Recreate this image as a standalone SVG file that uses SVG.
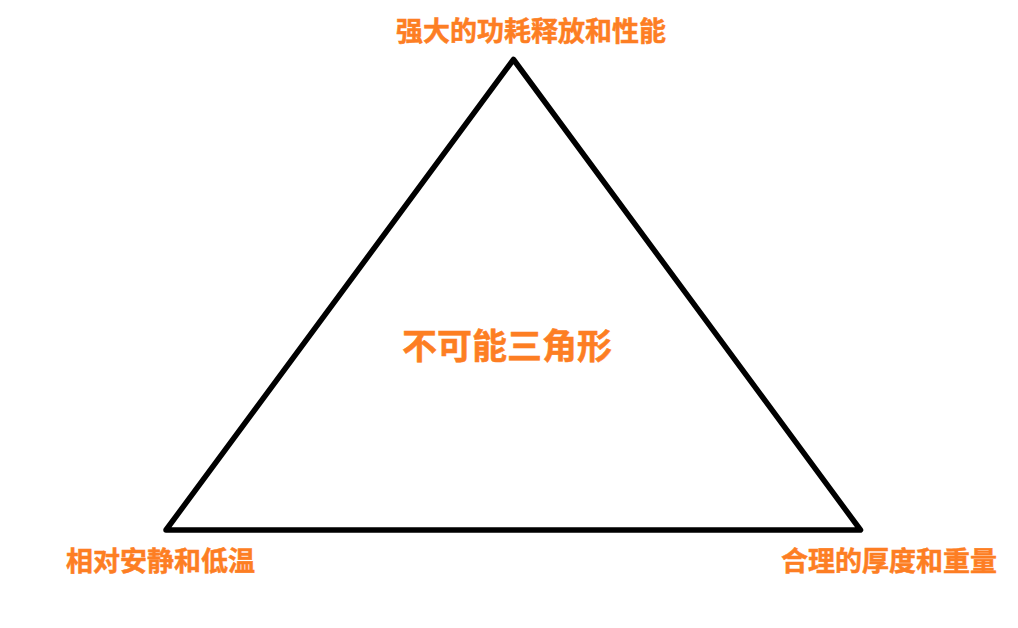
<svg xmlns="http://www.w3.org/2000/svg" width="1018" height="628" viewBox="0 0 1018 628">
<style>
text{font-family:"Noto Sans CJK SC","Noto Sans CJK JP",sans-serif;font-weight:700;fill:#fd7e23;stroke:#fd7e23;stroke-width:.5px}
.s{font-size:27px}
.m{font-size:35px}
</style>
<rect width="1018" height="628" fill="#fff"/>
<g id="connectors"><path id="triangle" d="M513.500 59.500L860.500 530H166Z" fill="none" stroke="#000" stroke-width="5.500" stroke-linejoin="round"/></g>
<g id="top"><text class="s" x="396" y="41">强大的功耗释放和性能</text></g>
<g id="center"><text class="m" x="402" y="359">不可能三角形</text></g>
<g id="left"><text class="s" x="66" y="571">相对安静和低温</text></g>
<g id="right"><text class="s" x="781" y="571">合理的厚度和重量</text></g>
</svg>
